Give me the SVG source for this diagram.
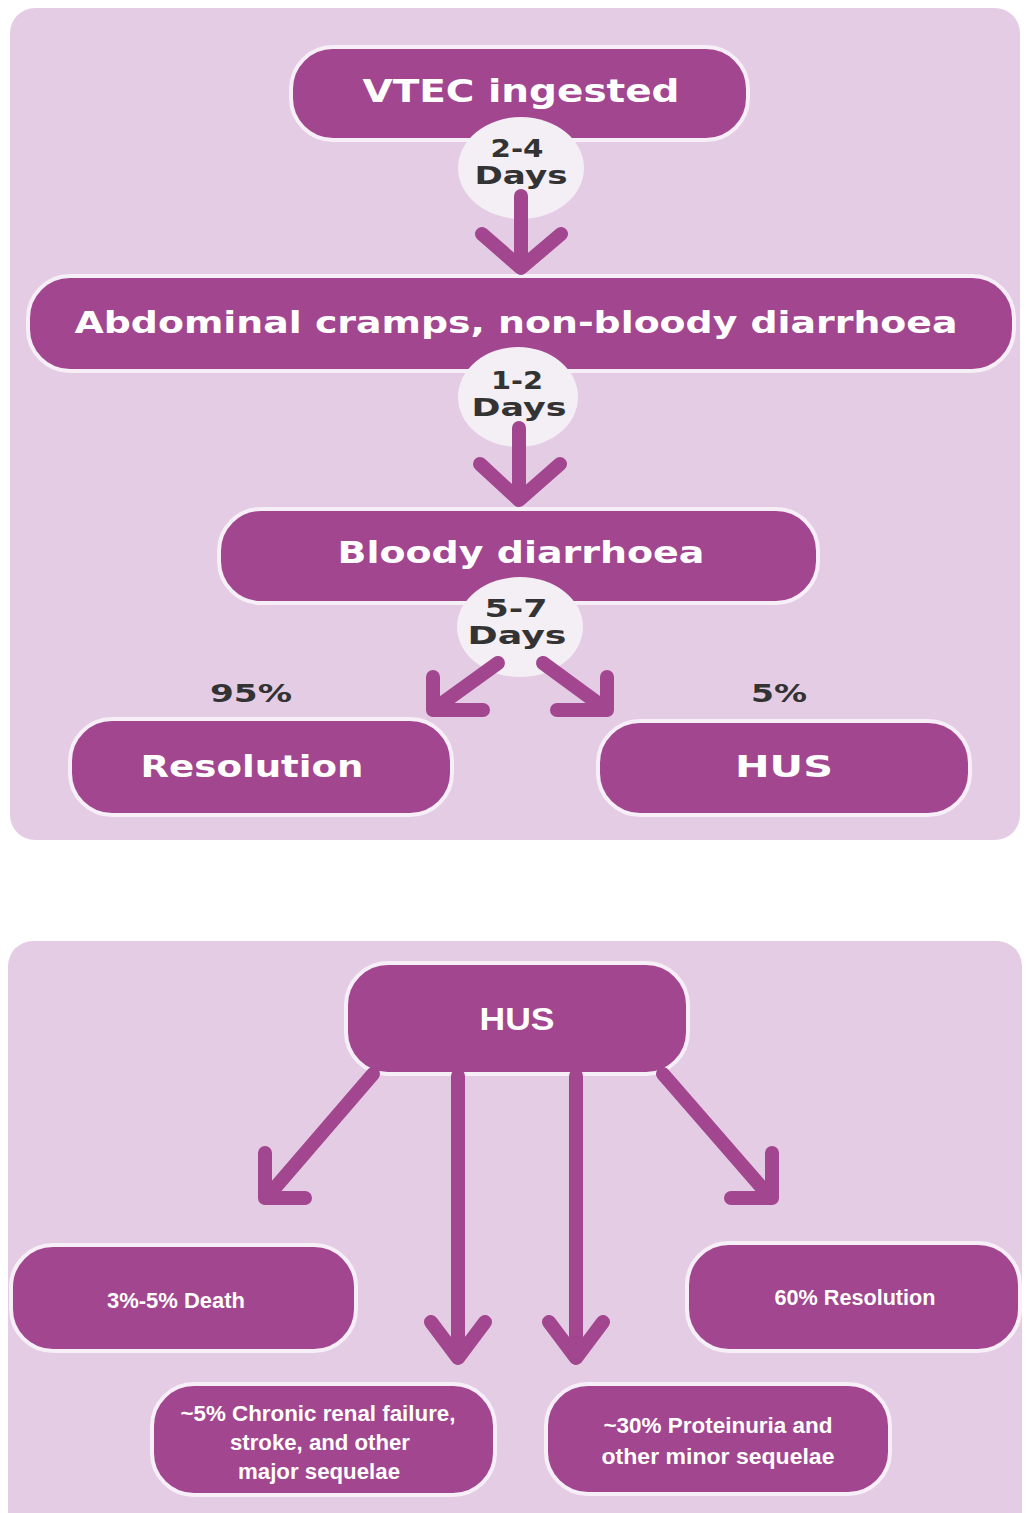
<svg xmlns="http://www.w3.org/2000/svg" width="1029" height="1513" viewBox="0 0 1029 1513">
<style>
.panel{fill:#e5cce5}
.node{fill:#a1468f;stroke:#f7eff7;stroke-width:4}
.lbl{font-family:"Liberation Sans",Arial,sans-serif;font-weight:bold;fill:#ffffff;text-anchor:middle}
.wide{font-family:"DejaVu Sans","Liberation Sans",sans-serif}
.dark{fill:#333333}
.bub{fill:#f4eef5}
.arr{fill:none;stroke:#a1468f;stroke-width:14;stroke-linecap:round;stroke-linejoin:round}
</style>
<rect width="1029" height="1513" fill="#ffffff"/>
<rect class="panel" x="10" y="8" width="1010" height="832" rx="25"/>
<rect class="panel" x="8" y="941" width="1014" height="600" rx="25"/>

<g id="n-vtec"><rect class="node" x="291" y="47" width="457" height="93" rx="42"/><text class="lbl wide" x="521" y="102" font-size="32" textLength="317" lengthAdjust="spacingAndGlyphs">VTEC ingested</text></g>
<g id="n-abdominal"><rect class="node" x="28" y="276" width="986" height="95" rx="42"/><text class="lbl wide" x="516" y="333" font-size="31" textLength="883" lengthAdjust="spacingAndGlyphs">Abdominal cramps, non-bloody diarrhoea</text></g>
<g id="n-bloody"><rect class="node" x="219" y="509" width="599" height="94" rx="42"/><text class="lbl wide" x="521" y="563" font-size="31" textLength="367" lengthAdjust="spacingAndGlyphs">Bloody diarrhoea</text></g>
<g id="n-resolution"><rect class="node" x="70" y="719" width="382" height="96" rx="42"/><text class="lbl wide" x="252" y="777" font-size="31" textLength="223" lengthAdjust="spacingAndGlyphs">Resolution</text></g>
<g id="n-hus-top"><rect class="node" x="598" y="721" width="372" height="94" rx="42"/><text class="lbl wide" x="784" y="777" font-size="31" textLength="98" lengthAdjust="spacingAndGlyphs">HUS</text></g>
<g id="n-hus"><rect class="node" x="346" y="963" width="342" height="111" rx="42"/><text class="lbl" x="517" y="1030" font-size="32" textLength="75" lengthAdjust="spacingAndGlyphs">HUS</text></g>
<g id="n-death"><rect class="node" x="11" y="1245" width="345" height="106" rx="42"/><text class="lbl" x="176" y="1308" font-size="22" textLength="138" lengthAdjust="spacingAndGlyphs">3%-5% Death</text></g>
<g id="n-resolution60"><rect class="node" x="687" y="1243" width="333" height="108" rx="42"/><text class="lbl" x="855" y="1305" font-size="22" textLength="161" lengthAdjust="spacingAndGlyphs">60% Resolution</text></g>
<g id="n-chronic"><rect class="node" x="152" y="1384" width="343" height="111" rx="42"/>
<text class="lbl" x="318" y="1421" font-size="22" textLength="275" lengthAdjust="spacingAndGlyphs">~5% Chronic renal failure,</text>
<text class="lbl" x="320" y="1450" font-size="22" textLength="180" lengthAdjust="spacingAndGlyphs">stroke, and other</text>
<text class="lbl" x="319" y="1479" font-size="22" textLength="162" lengthAdjust="spacingAndGlyphs">major sequelae</text></g>
<g id="n-proteinuria"><rect class="node" x="546" y="1384" width="344" height="110" rx="42"/>
<text class="lbl" x="718" y="1433" font-size="22" textLength="229" lengthAdjust="spacingAndGlyphs">~30% Proteinuria and</text>
<text class="lbl" x="718" y="1464" font-size="22" textLength="233" lengthAdjust="spacingAndGlyphs">other minor sequelae</text></g>

<g id="connectors">
<ellipse class="bub" cx="521" cy="168" rx="63" ry="51"/>
<text class="lbl wide dark" x="517" y="157" font-size="25" textLength="53" lengthAdjust="spacingAndGlyphs">2-4</text>
<text class="lbl wide dark" x="521" y="184" font-size="25" textLength="93" lengthAdjust="spacingAndGlyphs">Days</text>
<ellipse class="bub" cx="518" cy="397" rx="60" ry="50"/>
<text class="lbl wide dark" x="517" y="389" font-size="25" textLength="52" lengthAdjust="spacingAndGlyphs">1-2</text>
<text class="lbl wide dark" x="519" y="416" font-size="25" textLength="95" lengthAdjust="spacingAndGlyphs">Days</text>
<ellipse class="bub" cx="520" cy="627" rx="63" ry="50"/>
<text class="lbl wide dark" x="516" y="617" font-size="25" textLength="63" lengthAdjust="spacingAndGlyphs">5-7</text>
<text class="lbl wide dark" x="517" y="644" font-size="25" textLength="99" lengthAdjust="spacingAndGlyphs">Days</text>
<text class="lbl wide dark" x="251" y="702" font-size="25" textLength="82" lengthAdjust="spacingAndGlyphs">95%</text>
<text class="lbl wide dark" x="779" y="702" font-size="25" textLength="56" lengthAdjust="spacingAndGlyphs">5%</text>
<path class="arr" d="M521,196 V266 M482,234 L521,268 L561,234"/>
<path class="arr" d="M519,428 V498 M480,464 L519,500 L560,464"/>
<path class="arr" d="M498,663 L437,707 M433,677 V710 H483"/>
<path class="arr" d="M543,663 L603,707 M607,677 V710 H557"/>
<path class="arr" d="M373,1074 L268,1196 M265,1153 V1198 H305"/>
<path class="arr" d="M458,1076 V1356 M431,1322 L458,1358 L485,1322"/>
<path class="arr" d="M576,1076 V1356 M549,1322 L576,1358 L603,1322"/>
<path class="arr" d="M663,1074 L769,1196 M772,1153 V1198 H731"/>
</g>
</svg>
